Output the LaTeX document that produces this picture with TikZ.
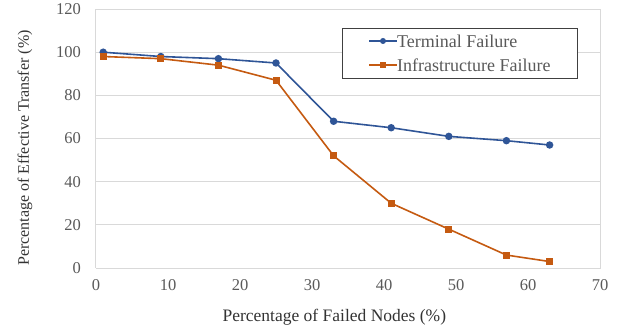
\documentclass[tikz,border=0pt]{standalone}
\usepackage{fontspec}
\setmainfont{Liberation Serif}
\definecolor{termblue}{HTML}{2F5597}
\definecolor{infraorange}{HTML}{C55A11}
\definecolor{gridgray}{HTML}{D9D9D9}
\definecolor{labelgray}{HTML}{595959}

\begin{document}
\begin{tikzpicture}[x=7.2pt,y=2.158pt,
  grid line/.style={gridgray,line width=1pt},
  tick label/.style={labelgray,font=\fontsize{16.5}{18}\selectfont},
  axis title/.style={black!80,font=\fontsize{17.5}{19}\selectfont},
  legend text/.style={labelgray,font=\fontsize{18}{20}\selectfont,anchor=west,inner sep=0pt},
  term point/.style={circle,fill=termblue,inner sep=0pt,minimum size=7.5pt},
  infra point/.style={rectangle,fill=infraorange,inner sep=0pt,minimum size=7pt},
  term line/.style={termblue,line width=1.6pt},
  infra line/.style={infraorange,line width=1.6pt}]

  \useasboundingbox (-13.333,-30.12) rectangle (73.47,124.19);

  % grid and frame
  \draw[grid line] (0,20) -- (70,20);
  \draw[grid line] (0,40) -- (70,40);
  \draw[grid line] (0,60) -- (70,60);
  \draw[grid line] (0,80) -- (70,80);
  \draw[grid line] (0,100) -- (70,100);
  \draw[grid line] (0,120) -- (70,120);
  \draw[grid line] (0,0) -- (70,0) -- (70,120);
  \draw[grid line] (0,0) -- (0,120);

  \node[tick label,anchor=east] (y0) at (-1.6,0) {0};
  \node[tick label,anchor=east] (y20) at (-1.6,20) {20};
  \node[tick label,anchor=east] (y40) at (-1.6,40) {40};
  \node[tick label,anchor=east] (y60) at (-1.6,60) {60};
  \node[tick label,anchor=east] (y80) at (-1.6,80) {80};
  \node[tick label,anchor=east] (y100) at (-1.6,100) {100};
  \node[tick label,anchor=east] (y120) at (-1.6,120) {120};

  \node[tick label] (x0) at (0,-7.9) {0};
  \node[tick label] (x10) at (10,-7.9) {10};
  \node[tick label] (x20) at (20,-7.9) {20};
  \node[tick label] (x30) at (30,-7.9) {30};
  \node[tick label] (x40) at (40,-7.9) {40};
  \node[tick label] (x50) at (50,-7.9) {50};
  \node[tick label] (x60) at (60,-7.9) {60};
  \node[tick label] (x70) at (70,-7.9) {70};

  \node[axis title] (xtitle) at (33.1,-22.7) {Percentage of Failed Nodes (\%)};
  \node[axis title,font=\fontsize{16}{18}\selectfont,rotate=90] (ytitle) at (-9.86,55.6) {Percentage of Effective Transfer (\%)};

  % terminal failure
  \node[term point] (t1) at (1,100) {};
  \node[term point] (t2) at (9,98) {};
  \node[term point] (t3) at (17,97) {};
  \node[term point] (t4) at (25,95) {};
  \node[term point] (t5) at (33,68) {};
  \node[term point] (t6) at (41,65) {};
  \node[term point] (t7) at (49,61) {};
  \node[term point] (t8) at (57,59) {};
  \node[term point] (t9) at (63,57) {};
  \draw[term line] (t1.center) -- (t2.center) -- (t3.center) -- (t4.center) -- (t5.center)
    -- (t6.center) -- (t7.center) -- (t8.center) -- (t9.center);

  % infrastructure failure
  \node[infra point] (i1) at (1,98) {};
  \node[infra point] (i2) at (9,97) {};
  \node[infra point] (i3) at (17,94) {};
  \node[infra point] (i4) at (25,87) {};
  \node[infra point] (i5) at (33,52) {};
  \node[infra point] (i6) at (41,30) {};
  \node[infra point] (i7) at (49,18) {};
  \node[infra point] (i8) at (57,6) {};
  \node[infra point] (i9) at (63,3) {};
  \draw[infra line] (i1.center) -- (i2.center) -- (i3.center) -- (i4.center) -- (i5.center)
    -- (i6.center) -- (i7.center) -- (i8.center) -- (i9.center);

  % legend
  \draw[fill=white,draw=black!75,line width=0.8pt] (34.17,88.04) rectangle (66.81,111.2);
  \coordinate (la1) at (37.92,105.2);
  \coordinate (lb1) at (41.81,105.2);
  \coordinate (la2) at (37.92,94.07);
  \coordinate (lb2) at (41.81,94.07);
  \draw[term line] (la1) -- (lb1);
  \node[term point,minimum size=6pt] (lt) at (39.86,105.2) {};
  \draw[infra line] (la2) -- (lb2);
  \node[infra point,minimum size=5.5pt] (li) at (39.86,94.07) {};
  \node[legend text] (ltext) at (lb1) {Terminal Failure};
  \node[legend text] (litext) at (lb2) {Infrastructure Failure};
\end{tikzpicture}
\end{document}
